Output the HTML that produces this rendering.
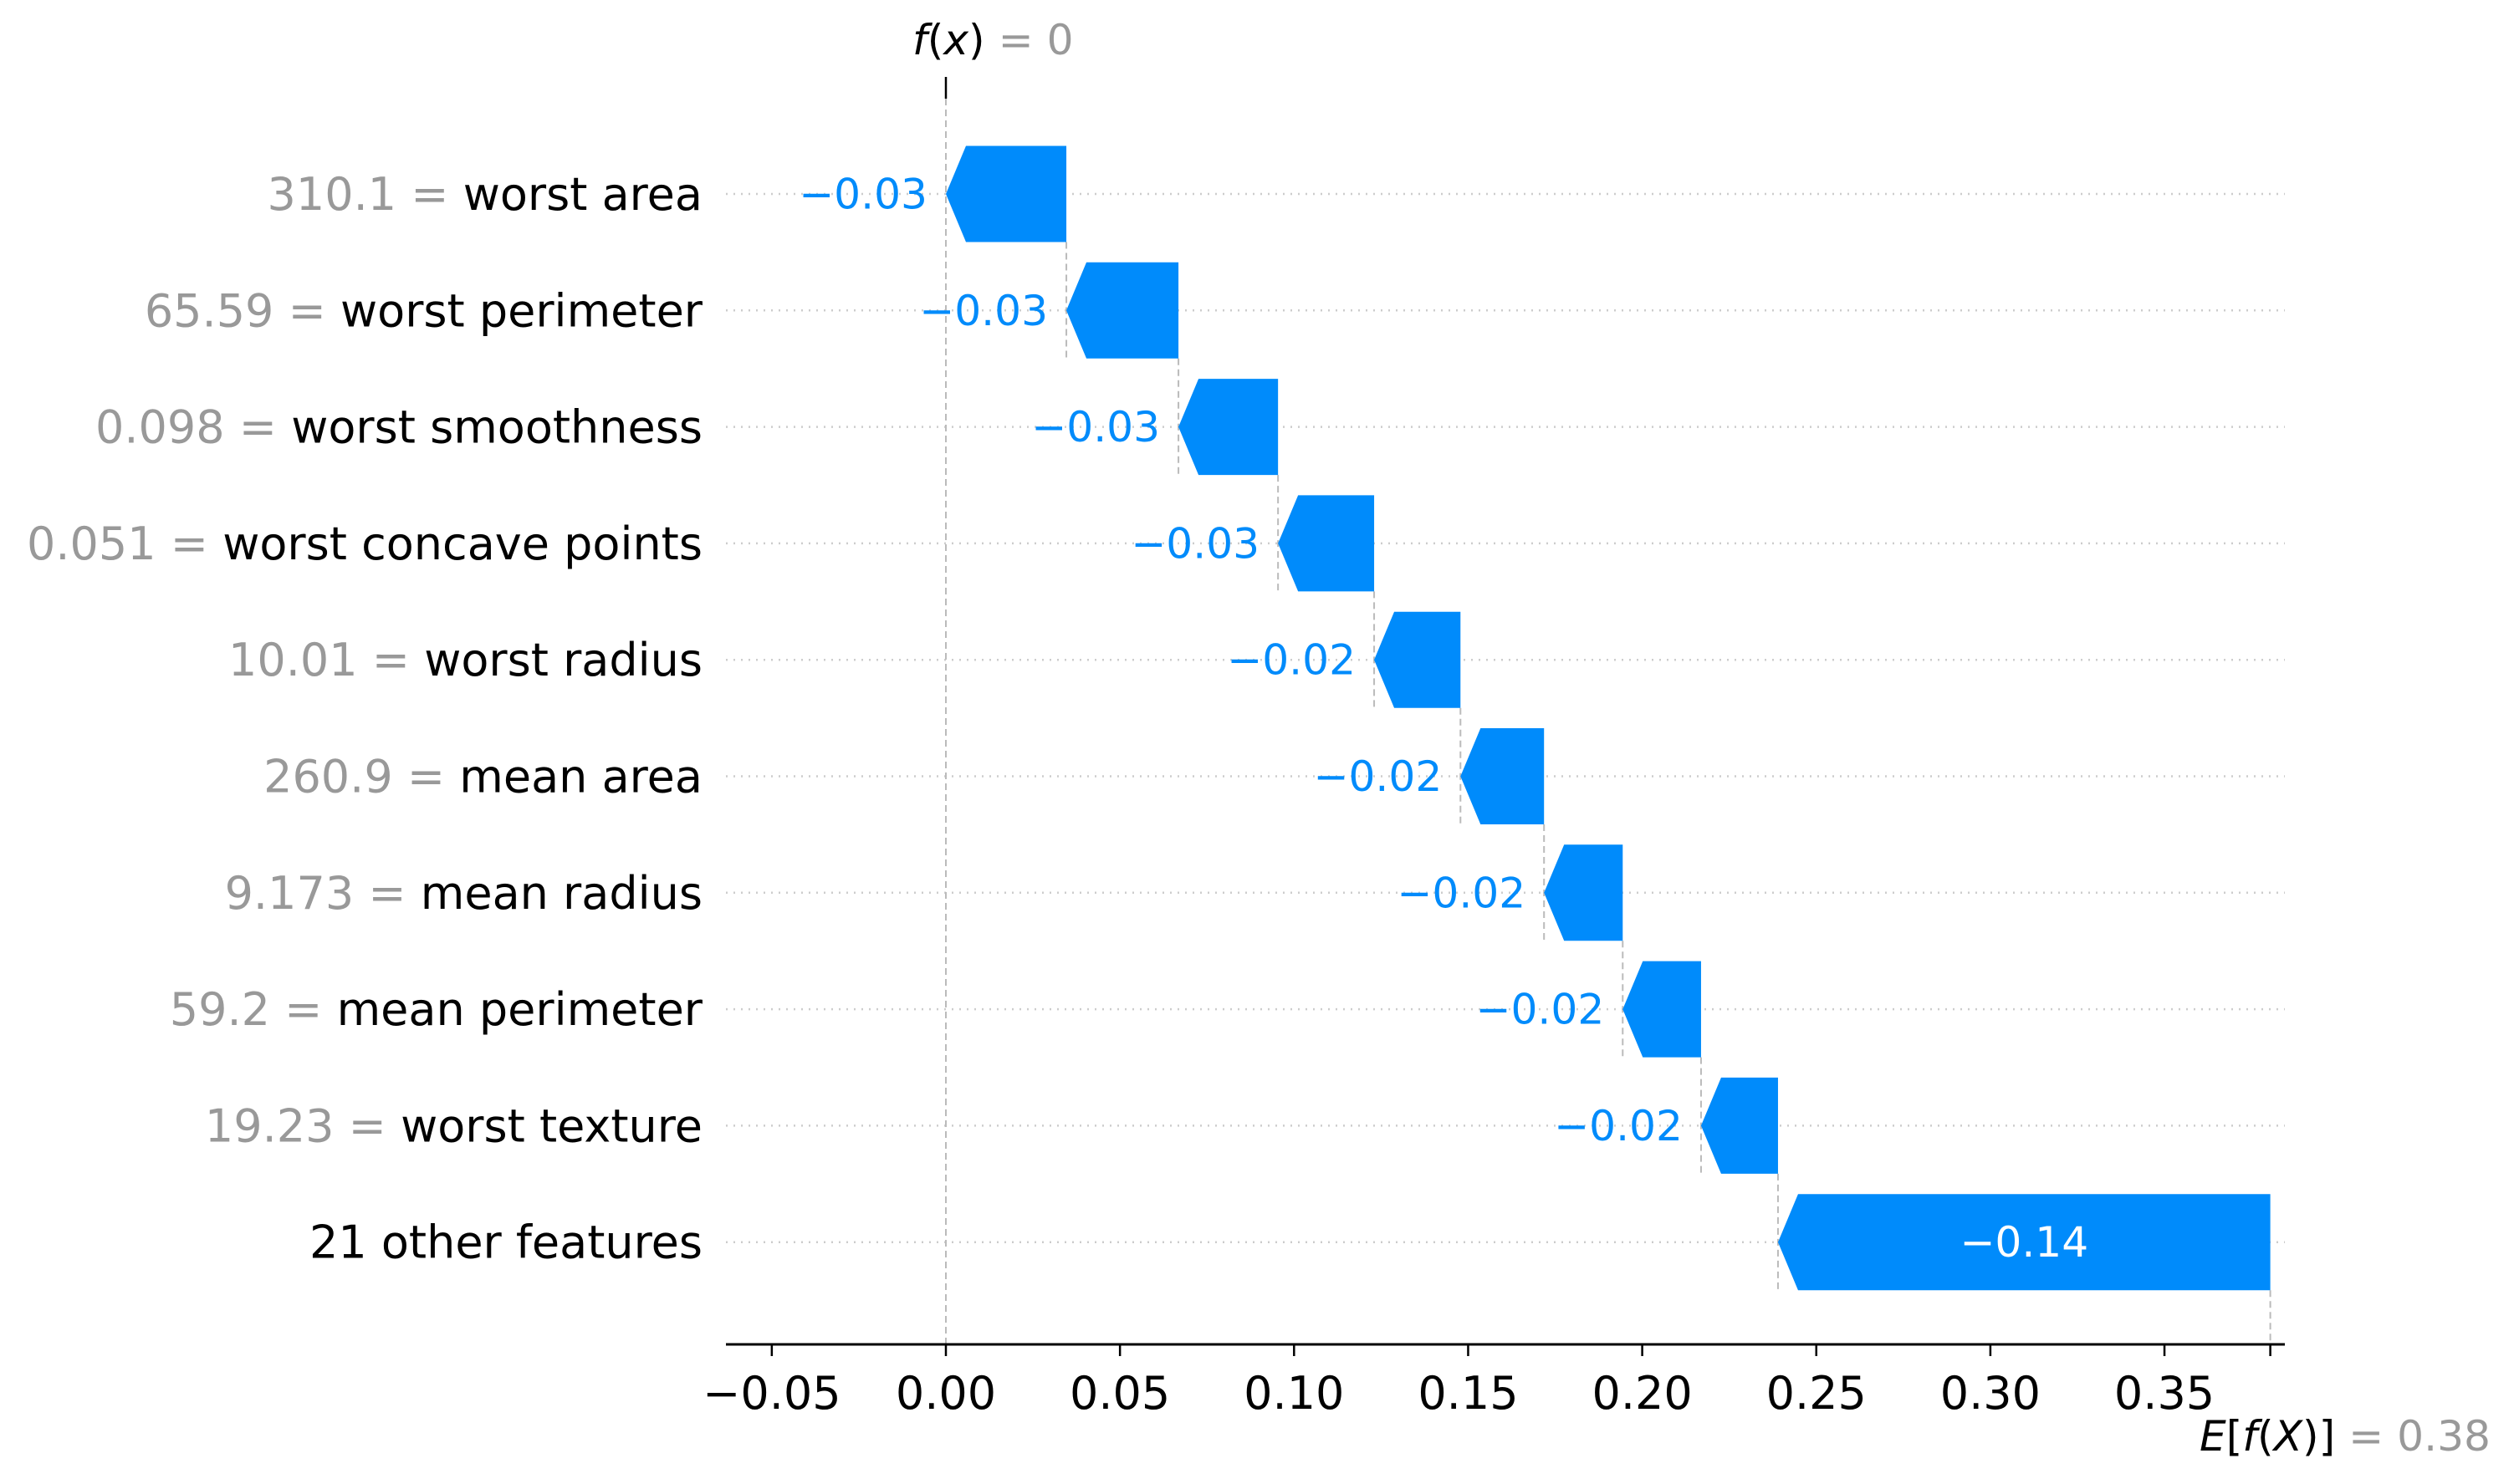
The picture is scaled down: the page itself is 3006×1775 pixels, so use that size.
<!DOCTYPE html>
<html><head><meta charset="utf-8"><style>
html,body{margin:0;padding:0;background:#fff;}
svg{display:block;font-family:"DejaVu Sans","Liberation Sans",sans-serif;}
</style></head><body>
<svg id="chart" width="3006" height="1775" viewBox="0 0 3006 1775" xmlns="http://www.w3.org/2000/svg"></svg>
<script>
const featureValues = ["310.1","65.59","0.098","0.051","10.01","260.9","9.173","59.2","19.23",""];
const featureNames = ["worst area","worst perimeter","worst smoothness","worst concave points","worst radius","mean area","mean radius","mean perimeter","worst texture","21 other features"];
const shapValues = [-0.0346,-0.0322,-0.0286,-0.0276,-0.0248,-0.0240,-0.0226,-0.0225,-0.0221,-0.1414];
const valueLabels = ["\u22120.03","\u22120.03","\u22120.03","\u22120.03","\u22120.02","\u22120.02","\u22120.02","\u22120.02","\u22120.02","\u22120.14"];
const baseValue = 0.3804;
const fxValue = 0;
const tickValues = [-0.05,0,0.05,0.10,0.15,0.20,0.25,0.30,0.35];
const tickLabels = ["\u22120.05","0.00","0.05","0.10","0.15","0.20","0.25","0.30","0.35"];

const NS="http://www.w3.org/2000/svg";
const svg=document.getElementById('chart');
const X0=1131, K=4163;
function xs(v){return X0+v*K;}
function ys(i){return 232+i*139.3;}
const BH=115, HEAD=24, FS=54;
const axisY=1608, axisL=868, axisR=2732;
function mk(tag,attrs,parent){const e=document.createElementNS(NS,tag);for(const k in attrs)e.setAttribute(k,attrs[k]);(parent||svg).appendChild(e);return e;}

for(let i=0;i<featureNames.length;i++){
  const g=mk('line',{x1:axisL,x2:axisR,y1:ys(i),y2:ys(i),stroke:'#cccccc','stroke-width':2.5,'stroke-dasharray':'2,7'});
  
  
}
const n=shapValues.length;
const starts=[], ends=[];
let cur=baseValue;
for(let i=n-1;i>=0;i--){ends[i]=cur;starts[i]=cur+shapValues[i];cur=starts[i];}
const v0=mk('line',{x1:xs(fxValue),x2:xs(fxValue),y1:118,y2:axisY,stroke:'#bbbbbb','stroke-width':2,'stroke-dasharray':'8,5'});


for(let i=0;i<n;i++){
  const y2=i<n-1?ys(i+1)+BH/2:axisY;
  const l=mk('line',{x1:xs(ends[i]),x2:xs(ends[i]),y1:ys(i)+BH/2,y2:y2,stroke:'#bbbbbb','stroke-width':2,'stroke-dasharray':'8,5'});
  
  
}
for(let i=0;i<n;i++){
  const xl=xs(starts[i]), xr=xs(ends[i]), yc=ys(i), t=yc-BH/2, b=yc+BH/2;
  const pts=`${xl},${yc} ${xl+HEAD},${t} ${xr},${t} ${xr},${b} ${xl+HEAD},${b}`;
  const p=mk('polygon',{points:pts,fill:'#008bfb'});
  
  
  const w=xr-xl;
  let tx;
  if(w>400){
    tx=mk('text',{x:(xl+xr)/2,y:yc,'font-size':FS*0.93,fill:'#ffffff','text-anchor':'middle','dominant-baseline':'central'});
  } else {
    tx=mk('text',{x:xl-22,y:yc,'font-size':FS*0.93,fill:'#008bfb','text-anchor':'end','dominant-baseline':'central'});
  }
  tx.textContent=valueLabels[i];
  
  
  const yl=mk('text',{x:840,y:yc,'font-size':FS,'text-anchor':'end','dominant-baseline':'central'});
  
  
  if(featureValues[i]){
    const s1=mk('tspan',{fill:'#999999'},yl);s1.textContent=featureValues[i]+' = ';
  }
  const s2=mk('tspan',{fill:'#000000'},yl);s2.textContent=featureNames[i];
}
const ax=mk('line',{x1:axisL,x2:axisR,y1:axisY,y2:axisY,stroke:'#000','stroke-width':3});


for(let j=0;j<tickValues.length;j++){
  const x=xs(tickValues[j]);
  const t=mk('line',{x1:x,x2:x,y1:axisY,y2:axisY+14,stroke:'#000','stroke-width':2.5});
  
  
  const tl=mk('text',{x:x,y:axisY+77,'font-size':FS,'text-anchor':'middle',fill:'#000'});
  tl.textContent=tickLabels[j];
  
  
}
const bt=mk('line',{x1:xs(baseValue),x2:xs(baseValue),y1:axisY,y2:axisY+14,stroke:'#000','stroke-width':2.5});


const ft=mk('line',{x1:xs(fxValue),x2:xs(fxValue),y1:92,y2:118,stroke:'#000','stroke-width':2.5});


const fl=mk('text',{x:xs(fxValue)-40,y:65,'font-size':FS*0.93});


fl.innerHTML='<tspan font-style="italic">f</tspan>(<tspan font-style="italic">x</tspan>)<tspan fill="#999"> = '+fxValue+'</tspan>';
const el=mk('text',{x:2978,y:1735,'font-size':FS*0.93,'text-anchor':'end'});


el.innerHTML='<tspan font-style="italic">E</tspan>[<tspan font-style="italic">f</tspan>(<tspan font-style="italic">X</tspan>)]<tspan fill="#999"> = 0.38</tspan>';
</script>
</body></html>
